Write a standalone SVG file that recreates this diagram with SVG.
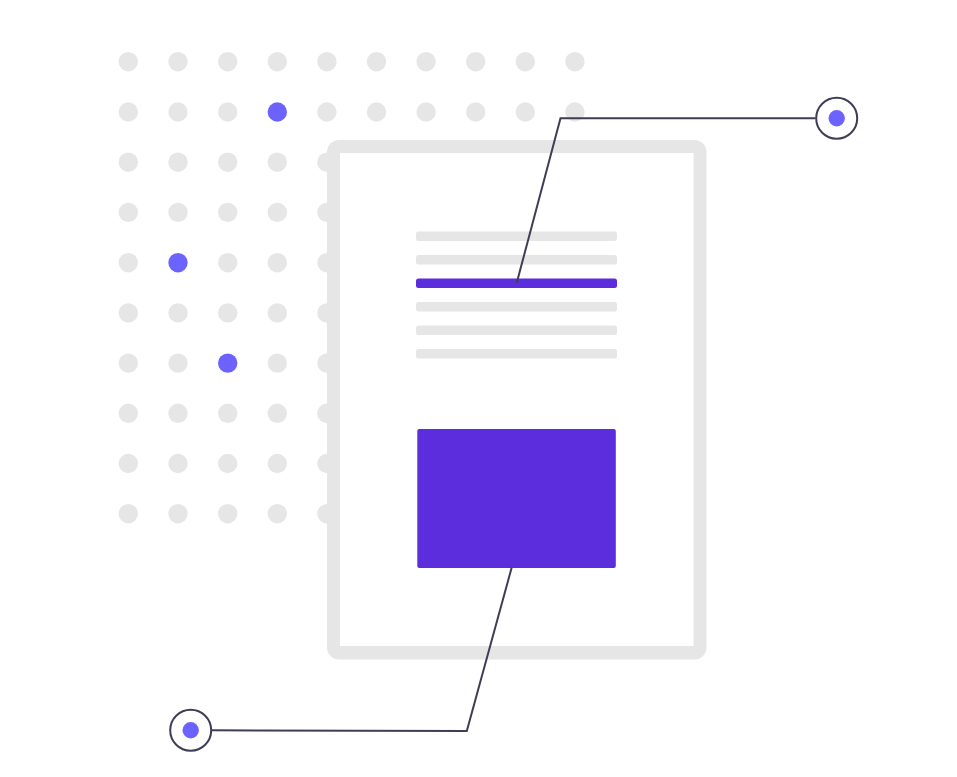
<svg xmlns="http://www.w3.org/2000/svg" width="957" height="777" viewBox="0 0 957 777">
<style>
.dot{fill:#e6e6e6}
.hi{fill:#6c63ff}
.bar{fill:#e6e6e6}
.acc{fill:#5c2ddd}
.wire{fill:none;stroke:#3f3d56;stroke-width:2;stroke-linejoin:miter}
.ring{fill:#ffffff;stroke:#3f3d56;stroke-width:2}
</style>
<defs>
<circle id="d" r="9.7" class="dot"/>
</defs>
<rect width="957" height="777" fill="#ffffff"/>
<g id="dot-grid">
<g id="row1"><use href="#d" x="128.3" y="61.7"/><use href="#d" x="178" y="61.7"/><use href="#d" x="227.7" y="61.7"/><use href="#d" x="277.3" y="61.7"/><use href="#d" x="326.9" y="61.7"/><use href="#d" x="376.5" y="61.7"/><use href="#d" x="426.1" y="61.7"/><use href="#d" x="475.7" y="61.7"/><use href="#d" x="525.3" y="61.7"/><use href="#d" x="574.9" y="61.7"/></g>
<g id="row2"><use href="#d" x="128.3" y="112"/><use href="#d" x="178" y="112"/><use href="#d" x="227.7" y="112"/><circle cx="277.3" cy="112" r="9.7" class="hi"/><use href="#d" x="326.9" y="112"/><use href="#d" x="376.5" y="112"/><use href="#d" x="426.1" y="112"/><use href="#d" x="475.7" y="112"/><use href="#d" x="525.3" y="112"/><use href="#d" x="574.9" y="112"/></g>
<g id="row3"><use href="#d" x="128.3" y="162.2"/><use href="#d" x="178" y="162.2"/><use href="#d" x="227.7" y="162.2"/><use href="#d" x="277.3" y="162.2"/><use href="#d" x="326.9" y="162.2"/></g>
<g id="row4"><use href="#d" x="128.3" y="212.4"/><use href="#d" x="178" y="212.4"/><use href="#d" x="227.7" y="212.4"/><use href="#d" x="277.3" y="212.4"/><use href="#d" x="326.9" y="212.4"/></g>
<g id="row5"><use href="#d" x="128.3" y="262.7"/><circle cx="178" cy="262.7" r="9.7" class="hi"/><use href="#d" x="227.7" y="262.7"/><use href="#d" x="277.3" y="262.7"/><use href="#d" x="326.9" y="262.7"/></g>
<g id="row6"><use href="#d" x="128.3" y="312.9"/><use href="#d" x="178" y="312.9"/><use href="#d" x="227.7" y="312.9"/><use href="#d" x="277.3" y="312.9"/><use href="#d" x="326.9" y="312.9"/></g>
<g id="row7"><use href="#d" x="128.3" y="363.1"/><use href="#d" x="178" y="363.1"/><circle cx="227.7" cy="363.1" r="9.7" class="hi"/><use href="#d" x="277.3" y="363.1"/><use href="#d" x="326.9" y="363.1"/></g>
<g id="row8"><use href="#d" x="128.3" y="413.3"/><use href="#d" x="178" y="413.3"/><use href="#d" x="227.7" y="413.3"/><use href="#d" x="277.3" y="413.3"/><use href="#d" x="326.9" y="413.3"/></g>
<g id="row9"><use href="#d" x="128.3" y="463.5"/><use href="#d" x="178" y="463.5"/><use href="#d" x="227.7" y="463.5"/><use href="#d" x="277.3" y="463.5"/><use href="#d" x="326.9" y="463.5"/></g>
<g id="row10"><use href="#d" x="128.3" y="513.7"/><use href="#d" x="178" y="513.7"/><use href="#d" x="227.7" y="513.7"/><use href="#d" x="277.3" y="513.7"/><use href="#d" x="326.9" y="513.7"/></g>
</g>
<g id="document">
<rect x="327" y="140" width="379.5" height="519.5" rx="12" fill="#e6e6e6"/>
<rect x="340" y="153" width="353.5" height="493" fill="#ffffff"/>
<rect x="416" y="231.5" width="201" height="9.5" rx="2.5" class="bar"/>
<rect x="416" y="255" width="201" height="9.5" rx="2.5" class="bar"/>
<rect x="416" y="278.5" width="201" height="9.5" rx="2.5" class="acc"/>
<rect x="416" y="302" width="201" height="9.5" rx="2.5" class="bar"/>
<rect x="416" y="325.5" width="201" height="9.5" rx="2.5" class="bar"/>
<rect x="416" y="349" width="201" height="9.5" rx="2.5" class="bar"/>
<rect x="417.3" y="429" width="198.5" height="139" rx="2" class="acc"/>
</g>
<g id="connectors">
<polyline class="wire" points="516.7,283 560.5,118.3 815.5,118.3"/>
<polyline class="wire" points="511.7,567.5 466.8,731 211.5,730.3"/>
</g>
<g id="node-top">
<circle cx="836.7" cy="118.3" r="20.5" class="ring"/>
<circle cx="836.7" cy="118.3" r="8.2" class="hi"/>
</g>
<g id="node-bottom">
<circle cx="190.7" cy="730.3" r="20.5" class="ring"/>
<circle cx="190.7" cy="730.3" r="8.2" class="hi"/>
</g>
</svg>
